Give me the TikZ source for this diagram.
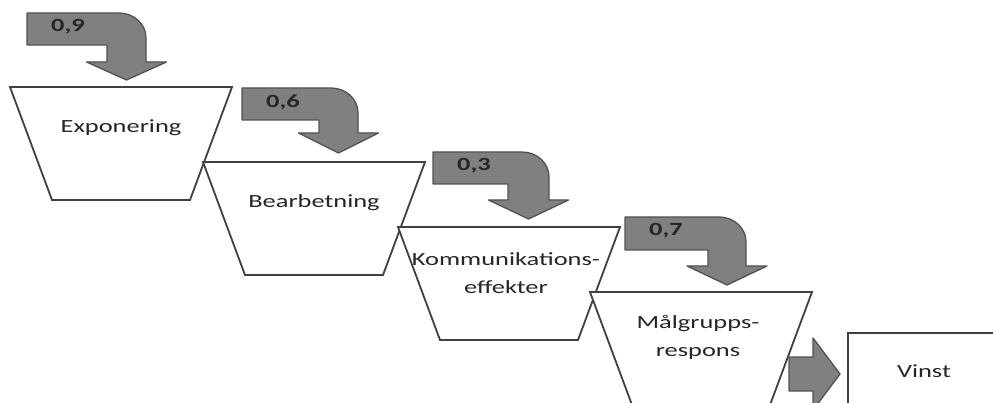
\documentclass[tikz,border=0pt]{standalone}
\usepackage{fontspec}
\newfontfamily\cf{Carlito}[FakeStretch=1.42]
\begin{document}
\begin{tikzpicture}[x=1pt,y=-1pt,
  funnel/.style={draw=black!75, line width=1.8pt, fill=white, line join=miter},
  bendarr/.style={draw=black!68, line width=1.3pt, fill=black!50, line join=round},
  boxtxt/.style={font=\cf\fontsize{18.6}{28}\selectfont, text=black!85, align=center, inner sep=0pt},
  labtxt/.style={font=\cf\bfseries\fontsize{18.6}{22}\selectfont, text=black!85, inner sep=0pt}]
\useasboundingbox (0,0) rectangle (993,403);
\clip (0,0) rectangle (993,403);
\fill[white] (0,0) rectangle (993,403);
% funnels
\foreach \X/\Y in {10/87, 203/162, 398/227, 590/292}{
  \draw[funnel] (\X,\Y) -- ({\X+222},\Y) -- ({\X+180},{\Y+113}) -- ({\X+42},{\Y+113}) -- cycle;
}
% bent arrows
\foreach \L/\T/\B/\SL/\SR/\HT/\TIP/\lab/\nm in {
  27/13/45/107/146/62/80/{0,9}/a,
  242/88/120/319/358/133/153/{0,6}/b,
  433/152/184/508/549/200/219/{0,3}/c,
  625/217/250/708/746/266/285/{0,7}/d}{
  \draw[bendarr] (\L,\T) -- ({\SR-27},\T) .. controls ({\SR-12},\T) and (\SR,{\T+11}) .. (\SR,{\T+25})
    -- (\SR,\HT) -- ({(\SL+\SR)/2+40},\HT) -- ({(\SL+\SR)/2},\TIP) -- ({(\SL+\SR)/2-40},\HT)
    -- (\SL,\HT) -- (\SL,\B) -- (\L,\B) -- cycle;
  \node[labtxt] (lab\nm) at ({\L+41},{\T+14}) {\lab};
}
% texts
\node[boxtxt] (expo) at (121,128) {Exponering};
\node[boxtxt] (bearb) at (314,203) {Bearbetning};
\node[boxtxt] (komm) at (506,273.5) {Kommunikations-\\effekter};
\node[boxtxt] (malg) at (698,337.5) {Målgrupps-\\respons};
% final arrow and box
\draw[bendarr] (789,357) -- (813,357) -- (813,338) -- (840,374) -- (813,410) -- (813,391) -- (789,391) -- cycle;
\draw[funnel] (848,333) rectangle (1000,440);
\node[boxtxt] (vinst) at (924,371) {Vinst};
\end{tikzpicture}
\end{document}
